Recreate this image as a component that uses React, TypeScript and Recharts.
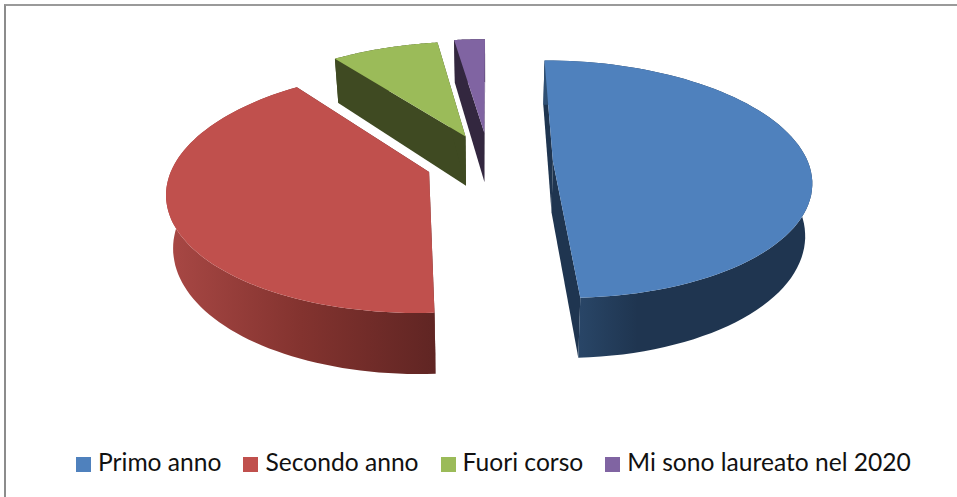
import React from 'react';
import { PieChart, Pie, Legend } from 'recharts';

const categories = ['Primo anno', 'Secondo anno', 'Fuori corso', 'Mi sono laureato nel 2020'];
const shares = [49.15, 40.55, 8, 2.3];

const topColors = ['#4f81bd', '#c0504d', '#9bbb59', '#8064a2'];
const cutColors = ['#1f3550', '#632826', '#3f4a22', '#33273f'];
const wallStops = [
  ['#2f5075', '#1f3550', '#1f3550'],
  ['#a94845', '#83332f', '#602523'],
  ['#3f4a22', '#3f4a22', '#3f4a22'],
  ['#33273f', '#33273f', '#33273f'],
];
const explode = [64, 63, 63, 66];

const data = categories.map((name, i) => ({ name, value: shares[i], fill: topColors[i] }));

// fake 3D: the flat sector is projected on a tilted plane with some perspective
const TILT = 0.456;
const DIST = 1680;
const DEPTH = 51;
const LOWER_SHRINK = 0.978; // the underside sits further from the camera

const SlicedPie = (props: any) => {
  const { cx, cy, outerRadius, startAngle, endAngle, name } = props;
  const i = categories.indexOf(name);
  const from = ((90 - startAngle) * Math.PI) / 180;
  const to = ((90 - endAngle) * Math.PI) / 180;
  const mid = (from + to) / 2;
  const ox = Math.sin(mid) * explode[i];
  const oy = -Math.cos(mid) * explode[i];

  const project = (px: number, py: number, drop = 0) => {
    const s = DIST / (DIST - py);
    const shrink = drop ? LOWER_SHRINK : 1;
    return [cx + px * s * shrink, cy + py * TILT * s + drop * s];
  };
  const toPath = (pts: number[][]) =>
    'M' + pts.map((p) => `${p[0].toFixed(1)},${p[1].toFixed(1)}`).join('L') + 'Z';

  const steps = 80;
  const rim: number[][] = [];
  for (let k = 0; k <= steps; k++) {
    const a = from + ((to - from) * k) / steps;
    rim.push([ox + Math.sin(a) * outerRadius, oy - Math.cos(a) * outerRadius]);
  }
  const top = rim.map((p) => project(p[0], p[1]));
  const bottom = rim.map((p) => project(p[0], p[1], DEPTH));
  const apex = project(ox, oy);
  const apexLow = project(ox, oy, DEPTH);
  const last = rim.length - 1;

  return (
    <g>
      <path d={toPath([apex, top[0], bottom[0], apexLow])} fill={cutColors[i]} />
      <path d={toPath([apex, top[last], bottom[last], apexLow])} fill={cutColors[i]} />
      <path d={toPath([...top, ...bottom.slice().reverse()])} fill={`url(#wall${i})`} />
      <path d={toPath([apex, ...top])} fill={topColors[i]} />
    </g>
  );
};

export default function App() {
  return (
    <div style={{ position: 'absolute', left: 0, top: 0, width: 957, height: 497, overflow: 'hidden', background: '#fff' }}>
      <div
        style={{
          position: 'absolute',
          left: 4,
          top: 4,
          width: 960,
          height: 500,
          borderTop: '2px solid #9a9a9a',
          borderLeft: '2px solid #8c8c8c',
        }}
      />
      <PieChart width={957} height={497} style={{ position: 'absolute', left: 0, top: 0 }}>
        <defs>
          {wallStops.map((stops, i) => (
            <linearGradient key={i} id={`wall${i}`} x1="0" y1="0" x2="1" y2="0">
              <stop offset="0%" stopColor={stops[0]} />
              <stop offset={i === 0 ? '35%' : '50%'} stopColor={stops[1]} />
              <stop offset="100%" stopColor={stops[2]} />
            </linearGradient>
          ))}
        </defs>
        <Pie
          data={data}
          dataKey="value"
          nameKey="name"
          cx={484}
          cy={157}
          outerRadius={255}
          startAngle={90}
          endAngle={-270}
          stroke="none"
          isAnimationActive={false}
          shape={SlicedPie}
        />
        <Legend
          layout="horizontal"
          align="left"
          verticalAlign="bottom"
          iconType="square"
          iconSize={15}
          itemSorter={null}
          wrapperStyle={{ left: 76, bottom: 20, width: 870, fontFamily: 'Lato', fontSize: 24.6, lineHeight: '30px' }}
          formatter={(value: string) => <span style={{ color: '#111', marginLeft: 3, marginRight: 12 }}>{value}</span>}
        />
      </PieChart>
    </div>
  );
}
